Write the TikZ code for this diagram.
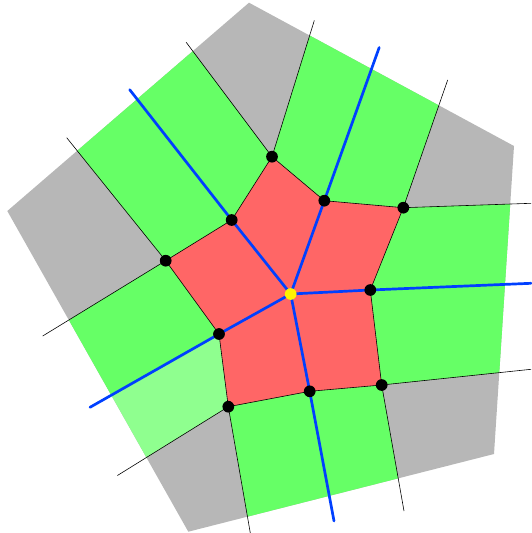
\documentclass[tikz,border=0pt]{standalone}
\usepackage{tikz}

\definecolor{cornergrey}{RGB}{183,183,183}
\definecolor{quadgreen}{RGB}{102,255,102}
\definecolor{lightgreen}{RGB}{143,255,143}
\definecolor{quadred}{RGB}{255,102,102}
\definecolor{lineblue}{RGB}{0,64,255}

\begin{document}
\begin{tikzpicture}[x=0.03cm, y=-0.03cm,
    thinedge/.style={line width=0.5pt},
    blueline/.style={draw=lineblue, line width=2.3pt, line cap=round, line join=round},
    vertexdot/.style={circle, fill=black, inner sep=0pt, minimum size=10pt},
    centerdot/.style={circle, fill=yellow, inner sep=0pt, minimum size=10pt}]
    \useasboundingbox (0,0) rectangle (531,533);

    % Pentágono externo.
    \coordinate (P1) at (249,2.7);
    \coordinate (P2) at (514,146);
    \coordinate (P3) at (494,454);
    \coordinate (P4) at (188.3,531.7);
    \coordinate (P5) at (7.3,211);

    % Centro e vértices do decágono.
    \coordinate (c) at (290.7,294);
    \coordinate (d1) at (272,156.7);
    \coordinate (d2) at (324.3,200.7);
    \coordinate (d3) at (403.3,207.7);
    \coordinate (d4) at (370.3,290);
    \coordinate (d5) at (381.7,385);
    \coordinate (d6) at (309.7,391.3);
    \coordinate (d7) at (228.3,406.7);
    \coordinate (d8) at (219,334);
    \coordinate (d9) at (165.7,260.7);
    \coordinate (d10) at (231.7,220);

    % Extremidades livres das arestas finas e dos raios azuis.
    \coordinate (t1a) at (186.2,42.3);
    \coordinate (t1b) at (314.3,20.5);
    \coordinate (t3a) at (447.7,79.9);
    \coordinate (t3b) at (531,203.3);
    \coordinate (t5a) at (531,369.3);
    \coordinate (t5b) at (404,511);
    \coordinate (t7a) at (250.3,533);
    \coordinate (t7b) at (117.4,475.5);
    \coordinate (t9a) at (42.7,336);
    \coordinate (t9b) at (66.7,137.7);
    \coordinate (b2) at (379.2,47.5);
    \coordinate (b4) at (531,283.3);
    \coordinate (b6) at (334,521);
    \coordinate (b8) at (90,407.3);
    \coordinate (b10) at (129.7,89.7);

    % Fundo cinza e faixas verdes.
    \fill[cornergrey] (P1) -- (P2) -- (P3) -- (P4) -- (P5) -- cycle;
    \begin{scope}
      \clip (P1) -- (P2) -- (P3) -- (P4) -- (P5) -- cycle;
      \foreach \pa/\pb/\pc/\pd in {d1/t1b/b2/d2, d2/b2/t3a/d3, d3/t3b/b4/d4,
          d4/b4/t5a/d5, d5/t5b/b6/d6, d6/b6/t7a/d7, d8/b8/t9a/d9,
          d9/t9b/b10/d10, d10/b10/t1a/d1} {
        \fill[quadgreen] (\pa) -- (\pb) -- (\pc) -- (\pd) -- cycle;
      }
      \fill[lightgreen] (d7) -- (t7b) -- (b8) -- (d8) -- cycle;
    \end{scope}

    % Decágono vermelho.
    \filldraw[fill=quadred, thinedge] (d1) -- (d2) -- (d3) -- (d4) -- (d5)
      -- (d6) -- (d7) -- (d8) -- (d9) -- (d10) -- cycle;

    % Arestas finas para fora.
    \foreach \i in {1,3,5,7,9} {
      \draw[thinedge] (t\i a) -- (d\i) -- (t\i b);
    }

    % Raios azuis a partir do centro.
    \foreach \i in {2,4,6,8,10} {
      \draw[blueline] (c) -- (d\i) -- (b\i);
    }

    % Vértices.
    \foreach \i in {1,...,10} {
      \node[vertexdot] (dot\i) at (d\i) {};
    }
    \node[centerdot] (center) at (c) {};
  \end{tikzpicture}
\end{document}
